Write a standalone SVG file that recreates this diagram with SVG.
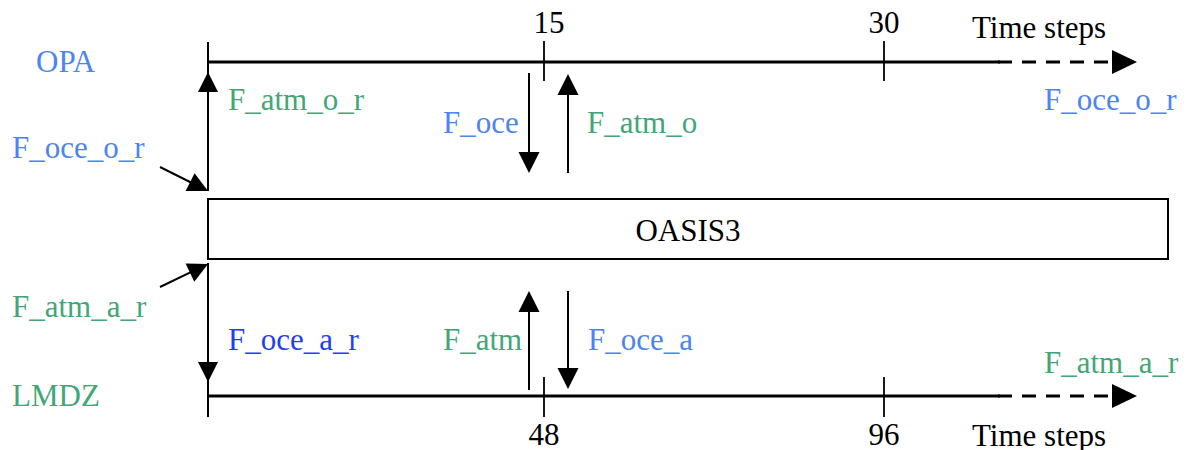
<svg xmlns="http://www.w3.org/2000/svg" width="1192" height="450" viewBox="0 0 1192 450">
<style>
text{font-family:"Liberation Serif","Times New Roman",serif;font-size:31px}
.k{fill:#000}
.b{fill:#4b84f5}
.g{fill:#42a676}
.d{fill:#1f3ff5}
.axis{stroke:#000;stroke-width:3;fill:none}
.dash{stroke:#000;stroke-width:3;fill:none;stroke-dasharray:14 10}
.ln{stroke:#000;stroke-width:2;fill:none}
.tick{stroke:#000;stroke-width:1.8;fill:none}
.head{fill:#000}
</style>
<rect width="1192" height="450" fill="#fff"/>
<g id="connectors">
  <!-- top timeline -->
  <line class="axis" x1="208" y1="62" x2="1000" y2="62"/>
  <line class="dash" x1="998" y1="62" x2="1114" y2="62"/>
  <polygon class="head" points="1112,50 1137,62 1112,74"/>
  <line class="tick" x1="544" y1="41" x2="544" y2="81"/>
  <line class="tick" x1="884" y1="41" x2="884" y2="81"/>
  <!-- bottom timeline -->
  <line class="axis" x1="208" y1="396" x2="1000" y2="396"/>
  <line class="dash" x1="998" y1="396" x2="1114" y2="396"/>
  <polygon class="head" points="1112,384 1137,396 1112,408"/>
  <line class="tick" x1="544" y1="377" x2="544" y2="417"/>
  <line class="tick" x1="884" y1="377" x2="884" y2="417"/>
  <!-- left verticals -->
  <line class="ln" x1="208" y1="42" x2="208" y2="191"/>
  <polygon class="head" points="208,72 218,92 198,92"/>
  <line class="ln" x1="208" y1="263" x2="208" y2="417"/>
  <polygon class="head" points="208,382 218,362 198,362"/>
  <!-- diagonal arrows -->
  <line class="ln" x1="160" y1="167" x2="195" y2="184.5"/>
  <polygon class="head" points="208,191 185.6,191 194.6,173.2"/>
  <line class="ln" x1="160" y1="287" x2="195" y2="270.2"/>
  <polygon class="head" points="208,264 194.3,281.7 185.6,263.6"/>
  <!-- upper exchange arrows -->
  <line class="ln" x1="529" y1="73" x2="529" y2="155"/>
  <polygon class="head" points="529,173 539.5,152 518.5,152"/>
  <line class="ln" x1="568" y1="173" x2="568" y2="92"/>
  <polygon class="head" points="568,74 578.5,95 557.5,95"/>
  <!-- lower exchange arrows -->
  <line class="ln" x1="529" y1="390" x2="529" y2="308"/>
  <polygon class="head" points="529,291 539.5,312 518.5,312"/>
  <line class="ln" x1="568" y1="291" x2="568" y2="372"/>
  <polygon class="head" points="568,389 578.5,368 557.5,368"/>
</g>
<g id="oasis3">
  <rect x="208" y="199" width="960" height="60" fill="#fff" stroke="#000" stroke-width="2"/>
  <text class="k" x="688" y="241" text-anchor="middle">OASIS3</text>
</g>
<g id="opa">
  <text class="b" x="36" y="72">OPA</text>
</g>
<g id="lmdz">
  <text class="g" x="12" y="406">LMDZ</text>
</g>
<g id="labels">
  <text class="k" x="549" y="33" text-anchor="middle">15</text>
  <text class="k" x="884" y="33" text-anchor="middle">30</text>
  <text class="k" x="972" y="38">Time steps</text>
  <text class="g" x="228" y="110">F_atm_o_r</text>
  <text class="b" x="12" y="158">F_oce_o_r</text>
  <text class="b" x="443" y="133">F_oce</text>
  <text class="g" x="587" y="133">F_atm_o</text>
  <text class="b" x="1044" y="110">F_oce_o_r</text>
  <text class="g" x="12" y="317">F_atm_a_r</text>
  <text class="d" x="228" y="350">F_oce_a_r</text>
  <text class="g" x="443" y="350">F_atm</text>
  <text class="b" x="588" y="350">F_oce_a</text>
  <text class="g" x="1044" y="373">F_atm_a_r</text>
  <text class="k" x="544" y="445" text-anchor="middle">48</text>
  <text class="k" x="884" y="445" text-anchor="middle">96</text>
  <text class="k" x="972" y="446">Time steps</text>
</g>
</svg>
